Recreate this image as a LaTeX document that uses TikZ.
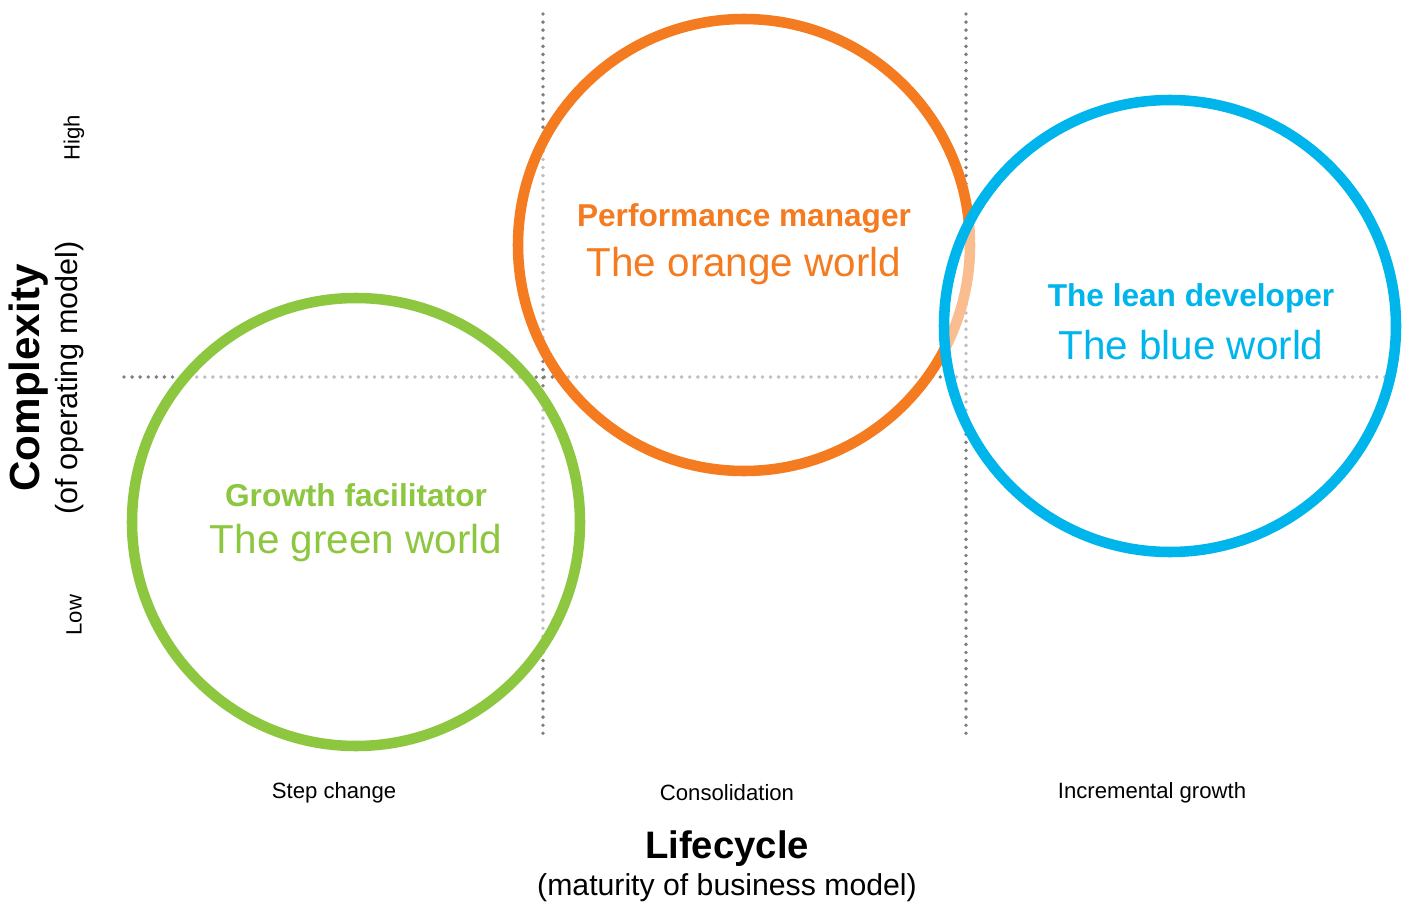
\documentclass[tikz,border=0pt]{standalone}
\usepackage{fontspec}
\setmainfont{Liberation Sans}
\usepackage{pgf, tikz}
\definecolor{worldorange}{HTML}{F47B20}
\definecolor{worldgreen}{HTML}{8DC63F}
\definecolor{worldblue}{HTML}{00B5EC}
\definecolor{dotgray}{HTML}{7F7F80}
\tikzset{
  grid/.style={dotgray, line width=2.2pt, line cap=round, dash pattern=on 0pt off 4.6pt},
  world/.style={line width=6pt, fill=white, fill opacity=0.5},
  role/.style={font=\bfseries\fontsize{18}{20}\selectfont},
  colour/.style={font=\fontsize{23}{26}\selectfont},
  stage/.style={font=\fontsize{12.6}{14}\selectfont},
}
\begin{document}
\begin{tikzpicture}[x=0.02cm,y=-0.02cm]
\useasboundingbox (0,0) rectangle (1414,903);
\coordinate (v1top) at (543,14);
\coordinate (v1bot) at (543,740);
\coordinate (v2top) at (966,14);
\coordinate (v2bot) at (966,740);
\coordinate (hleft) at (124,377);
\coordinate (hright) at (1390,377);
\draw[grid] (v1top) -- (v1bot);
\draw[grid] (v2top) -- (v2bot);
\draw[grid] (hleft) -- (hright);
\filldraw[world, draw=worldgreen] (356,522) circle (224);
\filldraw[world, draw=worldorange] (744,245) circle (226);
\filldraw[world, draw=worldblue] (1170,326) circle (226);
\node[role, text=worldorange] (perf) at (744,218) {Performance manager};
\node[colour, text=worldorange] (orange) at (744,266) {The orange world};
\node[role, text=worldblue] (lean) at (1191,298) {The lean developer};
\node[colour, text=worldblue] (blue) at (1191,345) {The blue world};
\node[role, text=worldgreen] (growth) at (356,495) {Growth facilitator};
\node[colour, text=worldgreen] (green) at (356,543) {The green world};
\node[stage] (step) at (334,793) {Step change};
\node[stage] (consol) at (727,793) {Consolidation};
\node[stage] (incr) at (1152,793) {Incremental growth};
\node[font=\bfseries\fontsize{21.8}{24}\selectfont] (life) at (727,849) {Lifecycle};
\node[font=\fontsize{17.2}{19}\selectfont] (lifesub) at (727,888) {(maturity of business model)};
\node[rotate=90, font=\bfseries\fontsize{24}{26}\selectfont] (cplx) at (29,378) {Complexity};
\node[rotate=90, font=\fontsize{17.4}{19}\selectfont] (cplxsub) at (70,378) {(of operating model)};
\node[rotate=90, stage] (high) at (74,138) {High};
\node[rotate=90, stage] (low) at (74,615) {Low};
\end{tikzpicture}
\end{document}
